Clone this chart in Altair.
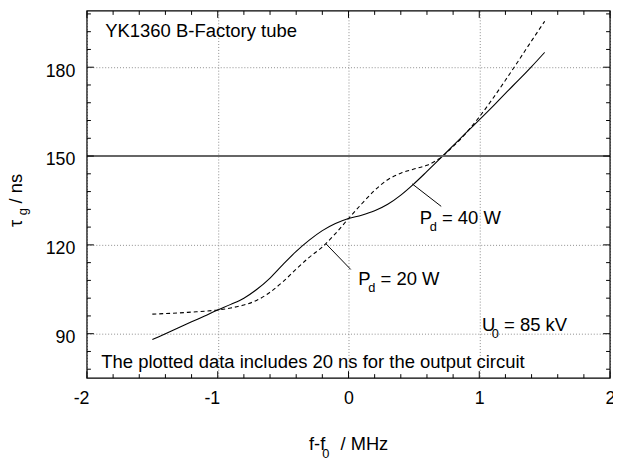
import altair as alt
import pandas as pd

# ---- data ----
freq = [-1.5, -1.4, -1.3, -1.2, -1.1, -1.0, -0.9, -0.8, -0.7, -0.6, -0.5, -0.4, -0.3,
        -0.2, -0.1, 0.0, 0.1, 0.2, 0.3, 0.4, 0.5, 0.6, 0.7, 0.8, 0.9, 1.0, 1.1, 1.2,
        1.3, 1.4, 1.5]
tau_40w = [88.0, 90.0, 92.0, 94.0, 96.0, 98.0, 99.9, 102.0, 105.0, 108.8, 113.4, 117.8,
           121.6, 124.8, 127.2, 128.9, 130.0, 131.5, 133.7, 136.8, 140.6, 144.8, 149.1,
           153.5, 157.9, 162.2, 166.6, 171.2, 175.6, 180.2, 185.0]
tau_20w = [96.6, 96.8, 97.0, 97.3, 97.6, 98.0, 98.7, 99.7, 101.3, 104.0, 107.6, 111.8,
           115.8, 119.3, 123.8, 128.9, 133.8, 138.4, 142.0, 144.2, 145.6, 146.9, 149.3,
           153.2, 157.8, 163.2, 169.2, 175.6, 182.2, 188.9, 195.5]

ref_level = [150]

x_major = [-2, -1, 0, 1, 2]
y_major = [90, 120, 150, 180]
x_minor = [-1.8, -1.6, -1.4, -1.2, -0.8, -0.6, -0.4, -0.2, 0.2, 0.4, 0.6, 0.8,
           1.2, 1.4, 1.6, 1.8]
y_minor = [78, 84, 96, 102, 108, 114, 126, 132, 138, 144, 156, 162, 168, 174,
           186, 192, 198]

# plain annotations (anchor in data units)
note_text = ["YK1360 B-Factory tube",
             "The plotted data includes 20 ns for the output circuit"]
note_x = [-1.860, -1.890]
note_y = [190.2, 78.3]

# annotations with a subscript
sub_main = ["P", "P", "U"]
sub_low = ["d", "d", "0"]
sub_rest = ["= 40 W", "= 20 W", "= 85 kV"]
sub_x = [0.545, 0.075, 1.02]
sub_y = [127.0, 106.3, 90.77]

# leader lines
lead_x = [0.487, -0.171]
lead_y = [140.6, 120.3]
lead_x2 = [0.709, 0.017]
lead_y2 = [133.0, 111.7]

# ---- layout ----
W, H = 530, 372
FONT = "Liberation Sans"

xscale = alt.Scale(domain=[-2, 2], nice=False, zero=False)
yscale = alt.Scale(domain=[75, 199], nice=False, zero=False)

xaxis = alt.Axis(values=x_major, grid=True, gridColor="#8c8c8c", gridDash=[1, 2],
                 gridWidth=1, domain=False, ticks=False, tickSize=0,
                 labelFont=FONT, labelFontSize=18, labelColor="black",
                 labelPadding=25.5, labelBaseline="alphabetic", labelFlush=False,
                 labelOverlap=False,
                 labelExpr="replace(datum.label, '\u2212', '-')",
                 labelOffset={"condition": {"test": "datum.value < 0", "value": -6},
                              "value": 0},
                 title=None)
yaxis = alt.Axis(values=y_major, grid=True, gridColor="#8c8c8c", gridDash=[1, 2],
                 gridWidth=1, domain=False, ticks=False, tickSize=0,
                 labelFont=FONT, labelFontSize=18, labelColor="black",
                 labelPadding=12.3, labelBaseline="alphabetic", labelOffset=9,
                 labelFlush=False, labelOverlap=False, title=None)


def X(f):
    return alt.X(f, type="quantitative", scale=xscale, axis=xaxis)


def Y(f):
    return alt.Y(f, type="quantitative", scale=yscale, axis=yaxis)


curves = pd.DataFrame({"x": freq, "y40": tau_40w, "y20": tau_20w})

line40 = alt.Chart(curves).mark_line(color="black", strokeWidth=1.1,
                                     interpolate="monotone").encode(x=X("x"), y=Y("y40"))
line20 = alt.Chart(curves).mark_line(color="black", strokeWidth=1.1, strokeDash=[4, 3],
                                     interpolate="monotone").encode(x=X("x"), y=Y("y20"))

ref = alt.Chart(pd.DataFrame({"y": ref_level})).mark_rule(
    color="#666666", strokeWidth=2).encode(y=Y("y"))

tick_layers = []
for vals, ln in ((x_minor, 4), (x_major, 7)):
    d = pd.DataFrame({"x": vals})
    tick_layers.append(alt.Chart(d).mark_rule(color="black", strokeWidth=1).encode(
        x=X("x"), y=alt.value(H), y2=alt.value(H - ln)))
    tick_layers.append(alt.Chart(d).mark_rule(color="black", strokeWidth=1).encode(
        x=X("x"), y=alt.value(0), y2=alt.value(ln)))
for vals, ln in ((y_minor, 4), (y_major, 7)):
    d = pd.DataFrame({"y": vals})
    tick_layers.append(alt.Chart(d).mark_rule(color="black", strokeWidth=1).encode(
        y=Y("y"), x=alt.value(0), x2=alt.value(ln)))
    tick_layers.append(alt.Chart(d).mark_rule(color="black", strokeWidth=1).encode(
        y=Y("y"), x=alt.value(W), x2=alt.value(W - ln)))

leads = alt.Chart(pd.DataFrame({"x": lead_x, "y": lead_y, "x2": lead_x2, "y2": lead_y2})
                  ).mark_rule(color="black", strokeWidth=1).encode(
    x=X("x"), y=Y("y"), x2="x2:Q", y2="y2:Q")

notes = alt.Chart(pd.DataFrame({"x": note_x, "y": note_y, "t": note_text})).mark_text(
    align="left", baseline="alphabetic", font=FONT, fontSize=18.7, color="black"
).encode(x=X("x"), y=Y("y"), text="t:N")

subdf = pd.DataFrame({"x": sub_x, "y": sub_y, "m": sub_main, "s": sub_low, "r": sub_rest})
sub_a = alt.Chart(subdf).mark_text(align="left", baseline="alphabetic", font=FONT,
                                   fontSize=18.7, color="black").encode(
    x=X("x"), y=Y("y"), text="m:N")
sub_b = alt.Chart(subdf).mark_text(align="left", baseline="alphabetic", font=FONT,
                                   fontSize=13, color="black", dx=10, dy=6.5).encode(
    x=X("x"), y=Y("y"), text="s:N")
sub_c = alt.Chart(subdf).mark_text(align="left", baseline="alphabetic", font=FONT,
                                   fontSize=18.7, color="black", dx=22.5).encode(
    x=X("x"), y=Y("y"), text="r:N")


# axis titles with subscripts
def title_piece(txt, px, py, size, angle=0):
    mk = dict(align="left", baseline="alphabetic", font=FONT, fontSize=size, color="black")
    if angle:
        mk["angle"] = angle
    return alt.Chart(pd.DataFrame({"t": [txt]})).mark_text(**mk).encode(
        x=alt.value(px), y=alt.value(py), text="t:N")


xt = [title_piece("f-f", 225, 445.3, 18.5),
      title_piece("0", 238.5, 452.5, 13),
      title_piece("/ MHz", 257, 445.3, 18.5)]
yt = [title_piece("τ", -66, 219, 18.5, 270),
      title_piece("g", -61, 207, 13, 270),
      title_piece("/ ns", -66, 195, 18.5, 270)]

frame = alt.Chart(pd.DataFrame({"a": [0]})).mark_rect(
    fillOpacity=0, stroke="black", strokeWidth=1.2).encode(
    x=alt.value(0), x2=alt.value(W), y=alt.value(0), y2=alt.value(H))

chart = alt.layer(
    line40, line20, ref, *tick_layers, leads, notes, sub_a, sub_b, sub_c, *xt, *yt, frame
).properties(
    width=W, height=H,
    padding={"left": 80, "top": 0, "right": 3, "bottom": 81},
    autosize=alt.AutoSizeParams(type="none"),
).configure_view(strokeWidth=0)

chart.save("out.html", embed_options={"renderer": "svg", "actions": False})
